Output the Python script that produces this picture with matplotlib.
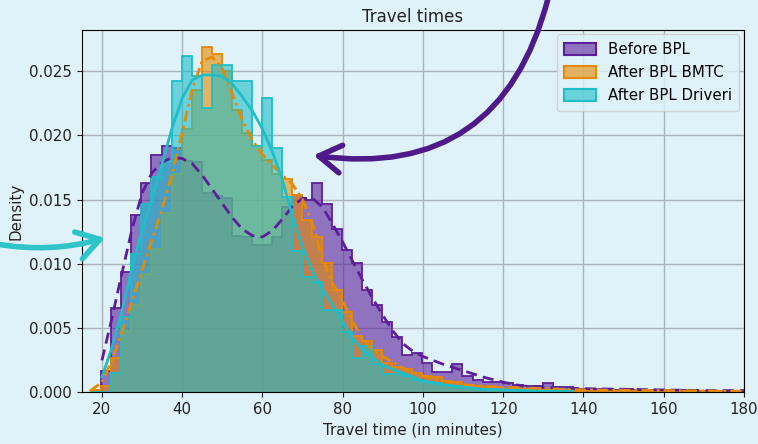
import numpy as np
import matplotlib
matplotlib.use("Agg")
import matplotlib.pyplot as plt
from matplotlib.patches import Patch, FancyArrowPatch
from matplotlib.colors import to_rgba

# histogram bins: 2.5 min wide, first bin starts at 17.35
bin_start = 17.35
bin_width = 2.5

before_hist = [0, 0.0017, 0.0066, 0.0094, 0.0138, 0.0163, 0.0185, 0.0192, 0.0190, 0.0180,
               0.0179, 0.0155, 0.0153, 0.0151, 0.0122, 0.0121, 0.0115, 0.0115, 0.0121, 0.0144,
               0.0154, 0.0150, 0.0163, 0.0147, 0.0127, 0.0111, 0.0101, 0.0080, 0.0068, 0.0055,
               0.0043, 0.0029, 0.0031, 0.0023, 0.0016, 0.0016, 0.0022, 0.0013, 0.0010, 0.0008,
               0.0008, 0.0007, 0.0006, 0.0005, 0.0005, 0.0007, 0.0004, 0.0004, 0.0003, 0.0003,
               0.0003, 0.0003, 0.0002, 0.0003, 0.0002, 0.0002, 0.0002, 0.0002, 0.0001, 0.0002,
               0.0001, 0.0001, 0.0001, 0.0001, 0.0001]
bmtc_hist = [0.0002, 0.0005, 0.0027, 0.0048, 0.0068, 0.0092, 0.0112, 0.0140, 0.0170, 0.0205,
             0.0235, 0.0269, 0.0263, 0.0250, 0.0220, 0.0202, 0.0192, 0.0181, 0.0170, 0.0166,
             0.0154, 0.0134, 0.0121, 0.0101, 0.0080, 0.0063, 0.0044, 0.0040, 0.0033, 0.0023,
             0.0020, 0.0018, 0.0015, 0.0013, 0.0012, 0.0009, 0.0008, 0.0006, 0.0005, 0.0004,
             0.0004, 0.0003, 0.0003, 0.0003, 0.0002, 0.0002, 0.0002, 0.0002, 0.0001, 0.0002,
             0.0001, 0.0001, 0.0001, 0.0001, 0.0001, 0.0001, 0.0001, 0.0001, 0.0001, 0.0001,
             0.0001, 0.0001, 0.0001, 0.0001, 0.0001]
driveri_hist = [0, 0, 0.0015, 0.0059, 0.0108, 0.0147, 0.0168, 0.0180, 0.0242, 0.0262,
                0.0246, 0.0221, 0.0255, 0.0255, 0.0242, 0.0242, 0.0192, 0.0229, 0.0190, 0.0152,
                0.0110, 0.0090, 0.0086, 0.0064, 0.0064, 0.0047, 0.0027, 0.0036, 0.0022, 0.0014,
                0.0014, 0.0013, 0.0010, 0.0008, 0.0007, 0.0006, 0.0005, 0.0004, 0.0003, 0.0003,
                0.0002, 0.0002, 0.0002, 0.0001, 0.0001, 0.0001, 0.0001, 0.0001]

# kde curves
before_kde_x = [20, 22.5, 25, 27.5, 30, 32.5, 35, 37.5, 40, 42.5, 45, 47.5, 50, 52.5, 55, 57.5, 60,
                62.5, 65, 67.5, 70, 72.5, 75, 77.5, 80, 82.5, 85, 87.5, 90, 92.5, 95, 97.5, 100,
                105, 110, 115, 120, 125, 130, 140, 150, 160, 170, 180]
before_kde_y = [0.0025, 0.0058, 0.0093, 0.0127, 0.0155, 0.0171, 0.0179, 0.0183, 0.0182, 0.0178,
                0.0169, 0.0158, 0.0147, 0.0136, 0.0127, 0.0122, 0.0121, 0.0126, 0.0135, 0.0145,
                0.0151, 0.0151, 0.0144, 0.0131, 0.0117, 0.0102, 0.0087, 0.0073, 0.0060, 0.0048,
                0.0038, 0.0032, 0.0028, 0.0022, 0.0017, 0.0012, 0.0008, 0.0005, 0.0004, 0.0003,
                0.00025, 0.0002, 0.00015, 0.00015]
bmtc_kde_x = [17, 20, 22.5, 25, 27.5, 30, 32.5, 35, 37.5, 40, 42.5, 45, 47.5, 50, 52.5, 55, 57.5,
              60, 62.5, 65, 67.5, 70, 72.5, 75, 77.5, 80, 82.5, 85, 87.5, 90, 95, 100, 105, 110,
              120, 130, 140, 160, 180]
bmtc_kde_y = [0.0001, 0.0008, 0.0025, 0.0047, 0.0071, 0.0095, 0.0119, 0.0143, 0.0170, 0.0202,
              0.0236, 0.0258, 0.0261, 0.0252, 0.0232, 0.0212, 0.0196, 0.0185, 0.0177, 0.0169,
              0.0162, 0.0150, 0.0131, 0.0104, 0.0085, 0.0071, 0.0055, 0.0042, 0.0033, 0.0028,
              0.0019, 0.0013, 0.0009, 0.0006, 0.0004, 0.0003, 0.0002, 0.00015, 0.0001]
driveri_kde_x = [20, 22.5, 25, 27.5, 30, 32.5, 35, 37.5, 40, 42.5, 45, 47.5, 50, 52.5, 55, 57.5,
                 60, 62.5, 65, 67.5, 70, 72.5, 75, 77.5, 80, 82.5, 85, 87.5, 90, 95, 100, 105,
                 110, 115, 120, 130, 137]
driveri_kde_y = [0.0012, 0.0035, 0.0063, 0.0097, 0.0126, 0.0150, 0.0178, 0.0206, 0.0229, 0.0243,
                 0.0247, 0.0247, 0.0246, 0.0240, 0.0230, 0.0219, 0.0205, 0.0187, 0.0165, 0.0137,
                 0.0113, 0.0094, 0.0080, 0.0068, 0.0055, 0.0042, 0.0033, 0.0027, 0.0021, 0.0015,
                 0.0009, 0.0006, 0.0004, 0.00025, 0.0002, 0.0001, 0.0001]

labels = ["Before BPL", "After BPL BMTC", "After BPL Driveri"]
colors = ["#5c1f99", "#e68a00", "#1ebec8"]
bg = "#dff1f9"
txt = "#222222"
fs = 10.8

fig = plt.figure(figsize=(7.58, 4.44), dpi=100, facecolor=bg)
ax = fig.add_axes([0.108, 0.116, 0.8735, 0.8165])
ax.set_facecolor(bg)
ax.grid(True, color="#a9b3ba", linewidth=1.0)
ax.set_axisbelow(True)

for hist, c in zip([before_hist, bmtc_hist, driveri_hist], colors):
    edges = bin_start + bin_width * np.arange(len(hist) + 1)
    ax.stairs(hist, edges, fill=True, facecolor=to_rgba(c, 0.6), edgecolor="none")
    ax.stairs(hist, edges, color=c, linewidth=1.3)

ax.plot(before_kde_x, before_kde_y, color=colors[0], linestyle=(0, (4, 2.2)), linewidth=2)
ax.plot(bmtc_kde_x, bmtc_kde_y, color=colors[1], linestyle=(0, (4, 1.5, 1, 1.5)), linewidth=2)
ax.plot(driveri_kde_x, driveri_kde_y, color=colors[2], linestyle="-", linewidth=2)

ax.set_xlim(15, 180)
ax.set_ylim(0, 0.0282)
ax.set_xticks([20, 40, 60, 80, 100, 120, 140, 160, 180])
ax.set_yticks([0, 0.005, 0.010, 0.015, 0.020, 0.025])
ax.set_yticklabels(["0.000", "0.005", "0.010", "0.015", "0.020", "0.025"])
ax.tick_params(colors=txt, labelsize=fs)
ax.set_title("Travel times", fontsize=12, color=txt)
ax.set_xlabel("Travel time (in minutes)", color=txt, fontsize=fs)
ax.set_ylabel("Density", color=txt, fontsize=fs)

handles = [Patch(facecolor=to_rgba(c, 0.6), edgecolor=c, linewidth=1.5) for c in colors]
leg = ax.legend(handles, labels, loc="upper right", fontsize=fs, framealpha=0.8,
                facecolor=bg, edgecolor="#cccccc", labelspacing=0.55,
                handlelength=2.1, handleheight=0.85, borderpad=0.5, borderaxespad=0.3)

# decorative arrows
purple_arrow = FancyArrowPatch((0.724, 1.01), (0.41, 0.651), transform=fig.transFigure,
                               connectionstyle="arc3,rad=-0.45",
                               arrowstyle="->,head_length=8,head_width=5",
                               color="#4e1a8a", linewidth=4, mutation_scale=2)
cyan_arrow = FancyArrowPatch((-0.01, 0.452), (0.142, 0.466), transform=fig.transFigure,
                             connectionstyle="arc3,rad=0.12",
                             arrowstyle="->,head_length=8,head_width=5",
                             color="#2ec4c8", linewidth=4, mutation_scale=2)
fig.patches.extend([purple_arrow, cyan_arrow])

fig.savefig("out.png", dpi=100, facecolor=bg)
